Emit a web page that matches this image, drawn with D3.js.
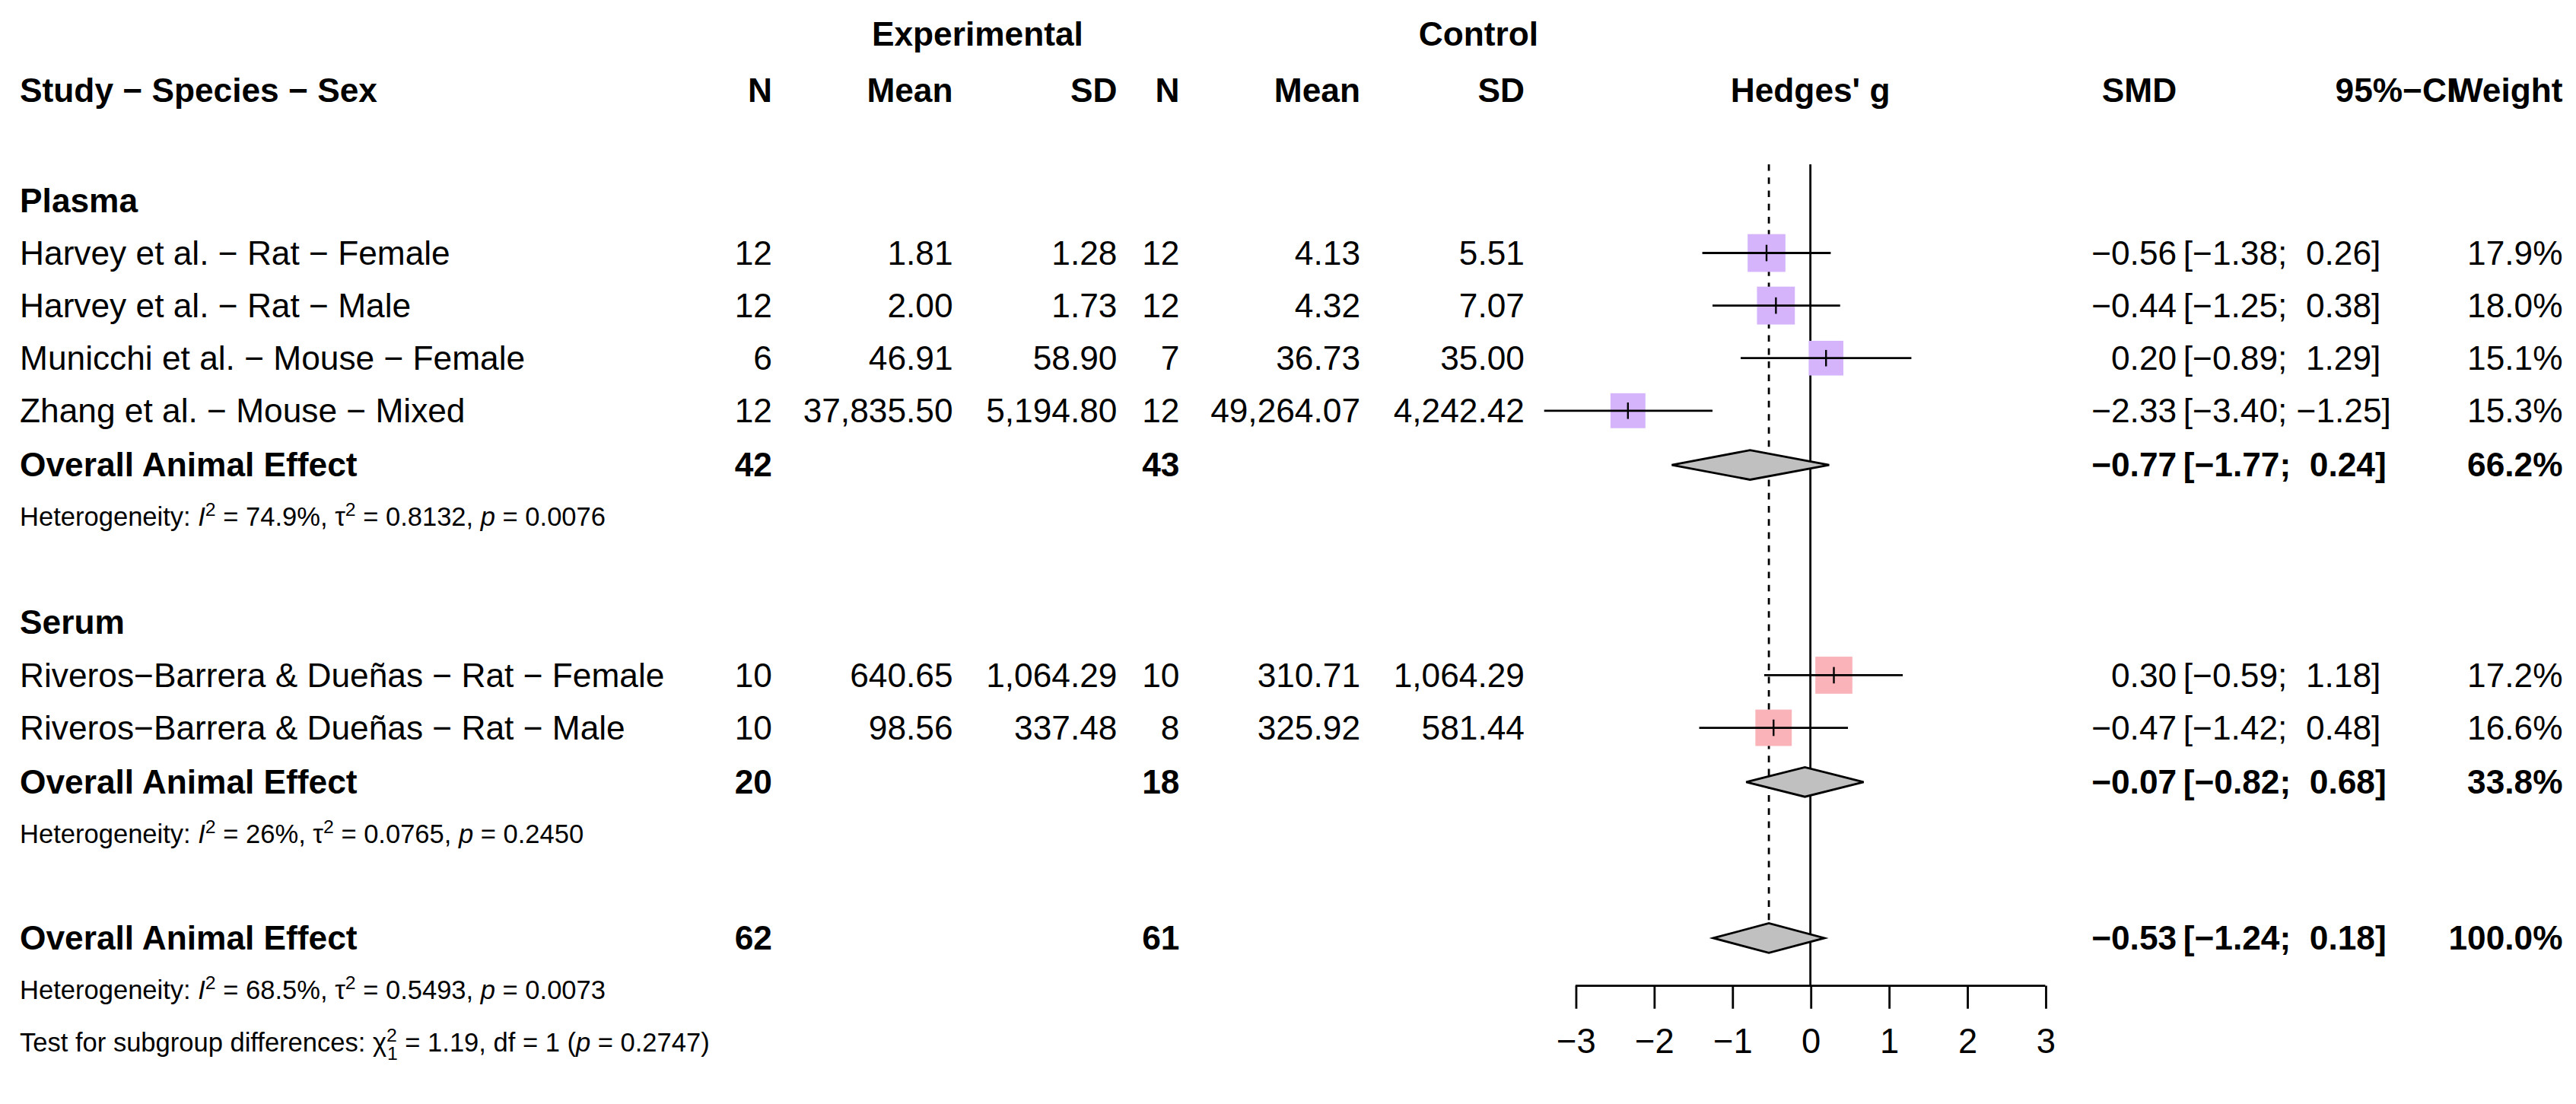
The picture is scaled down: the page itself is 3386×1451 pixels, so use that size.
<!DOCTYPE html>
<html><head><meta charset="utf-8">
<script src="https://cdn.jsdelivr.net/npm/d3@7"></script>
<style>body{margin:0;background:#fff}text{font-family:"Liberation Sans",Arial,sans-serif;fill:#000}</style>
</head><body>
<svg id="chart" width="3386" height="1451" viewBox="0 0 1568 672"></svg>
<script>
// study rows
var studies = ["Harvey et al. \u2212 Rat \u2212 Female","Harvey et al. \u2212 Rat \u2212 Male","Municchi et al. \u2212 Mouse \u2212 Female","Zhang et al. \u2212 Mouse \u2212 Mixed","Riveros\u2212Barrera & Due\u00f1as \u2212 Rat \u2212 Female","Riveros\u2212Barrera & Due\u00f1as \u2212 Rat \u2212 Male"];
var group = ["Plasma","Plasma","Plasma","Plasma","Serum","Serum"];
var nE = ["12","12","6","12","10","10"];
var meanE = ["1.81","2.00","46.91","37,835.50","640.65","98.56"];
var sdE = ["1.28","1.73","58.90","5,194.80","1,064.29","337.48"];
var nC = ["12","12","7","12","10","8"];
var meanC = ["4.13","4.32","36.73","49,264.07","310.71","325.92"];
var sdC = ["5.51","7.07","35.00","4,242.42","1,064.29","581.44"];
var smd = [-0.56,-0.44,0.20,-2.33,0.30,-0.47];
var lo = [-1.38,-1.25,-0.89,-3.40,-0.59,-1.42];
var hi = [0.26,0.38,1.29,-1.25,1.18,0.48];
var weight = [17.9,18.0,15.1,15.3,17.2,16.6];
// pooled rows
var pooledLabel = ["Overall Animal Effect","Overall Animal Effect","Overall Animal Effect"];
var pooledNE = ["42","20","62"], pooledNC = ["43","18","61"];
var pooledSmd = [-0.77,-0.07,-0.53], pooledLo = [-1.77,-0.82,-1.24], pooledHi = [0.24,0.68,0.18];
var pooledW = ["66.2%","33.8%","100.0%"];
var het = [["74.9%","0.8132","0.0076"],["26%","0.0765","0.2450"],["68.5%","0.5493","0.0073"]];
var ticks = [-3,-2,-1,0,1,2,3];
var groupColor = {Plasma:"#d5b4fb", Serum:"#f9b3b9"};

var svg = d3.select("#chart");
var x = d3.scaleLinear().domain([-3,3]).range([959,1245]);
var rowY = {s0:154,s1:186,s2:218,s3:250,p0:283,h0:314,g0:122,g1:379,s4:411,s5:443,p1:476,h1:507,p2:571,h2:602,t:634};
var fs = 20.5;
function fmt(v){ return (v<0?"\u2212":"")+Math.abs(v).toFixed(2); }
function fmtCI(a,b){ return "["+fmt(a)+";"+(b<0?" ":"  ")+fmt(b)+"]"; }
function txt(str,xx,yy,anchor,bold,size){
  return svg.append("text").attr("x",xx).attr("y",yy).attr("text-anchor",anchor||"start")
    .attr("font-size",size||fs).attr("font-weight",bold?"bold":"normal").style("white-space","pre").text(str);
}
var col = {nE:470,mE:580,sE:680,nC:718,mC:828,sC:928,smd:1325,ci:1329,ciHead:1495,w:1560};

// headers
txt("Experimental",595,28,"middle",true);
txt("Control",900,28,"middle",true);
var hy=62;
txt("Study \u2212 Species \u2212 Sex",12,hy,"start",true);
[["N",col.nE],["Mean",col.mE],["SD",col.sE],["N",col.nC],["Mean",col.mC],["SD",col.sC],["SMD",col.smd],["95%\u2212CI",col.ciHead],["Weight",col.w]]
  .forEach(function(h){ txt(h[0],h[1],hy,"end",true); });
txt("Hedges' g",x(0),hy,"middle",true);
txt("Plasma",12,rowY.g0+7,"start",true);
txt("Serum",12,rowY.g1+7,"start",true);

// reference lines
svg.append("line").attr("x1",x(0)).attr("x2",x(0)).attr("y1",100).attr("y2",600).attr("stroke","#000").attr("stroke-width",1.3);
svg.append("line").attr("x1",x(pooledSmd[2])).attr("x2",x(pooledSmd[2])).attr("y1",100).attr("y2",rowY.p2-9)
  .attr("stroke","#000").attr("stroke-width",1.3).attr("stroke-dasharray","4,4");

// study rows
studies.forEach(function(s,i){
  var y = rowY["s"+i], ty=y+7;
  txt(s,12,ty); txt(nE[i],col.nE,ty,"end"); txt(meanE[i],col.mE,ty,"end"); txt(sdE[i],col.sE,ty,"end");
  txt(nC[i],col.nC,ty,"end"); txt(meanC[i],col.mC,ty,"end"); txt(sdC[i],col.sC,ty,"end");
  txt(fmt(smd[i]),col.smd,ty,"end"); txt(fmtCI(lo[i],hi[i]),col.ci,ty,"start"); txt(weight[i].toFixed(1)+"%",col.w,ty,"end");
  var side = 23*Math.sqrt(weight[i]/17.9);
  svg.append("rect").attr("x",x(smd[i])-side/2).attr("y",y-side/2).attr("width",side).attr("height",side).attr("fill",groupColor[group[i]]);
  svg.append("line").attr("x1",x(lo[i])).attr("x2",x(hi[i])).attr("y1",y).attr("y2",y).attr("stroke","#000").attr("stroke-width",1.3);
  svg.append("line").attr("x1",x(smd[i])).attr("x2",x(smd[i])).attr("y1",y-5).attr("y2",y+5).attr("stroke","#000").attr("stroke-width",1.1);
});

// pooled rows
pooledLabel.forEach(function(l,k){
  var y=rowY["p"+k], ty=y+7;
  txt(l,12,ty,"start",true); txt(pooledNE[k],col.nE,ty,"end",true); txt(pooledNC[k],col.nC,ty,"end",true);
  txt(fmt(pooledSmd[k]),col.smd,ty,"end",true); txt(fmtCI(pooledLo[k],pooledHi[k]),col.ci,ty,"start",true); txt(pooledW[k],col.w,ty,"end",true);
  var pts=[[x(pooledLo[k]),y],[x(pooledSmd[k]),y-9],[x(pooledHi[k]),y],[x(pooledSmd[k]),y+9]];
  svg.append("polygon").attr("points",pts.map(function(p){return p.join(",");}).join(" "))
    .attr("fill","#c0c0c0").attr("stroke","#000").attr("stroke-width",1.3);
  // heterogeneity
  var t = svg.append("text").attr("x",12).attr("y",rowY["h"+k]+6).attr("font-size",16);
  t.append("tspan").text("Heterogeneity: ");
  t.append("tspan").attr("font-style","italic").text("I");
  t.append("tspan").attr("dy",-6).attr("font-size",11.5).text("2");
  t.append("tspan").attr("dy",6).text(" = "+het[k][0]+", \u03c4");
  t.append("tspan").attr("dy",-6).attr("font-size",11.5).text("2");
  t.append("tspan").attr("dy",6).text(" = "+het[k][1]+", ");
  t.append("tspan").attr("font-style","italic").text("p");
  t.append("tspan").text(" = "+het[k][2]);
});
var tt = svg.append("text").attr("x",12).attr("y",rowY.t+6).attr("font-size",16);
tt.append("tspan").text("Test for subgroup differences: \u03c7");
tt.append("tspan").attr("dy",-6).attr("font-size",11.5).text("2");
tt.append("tspan").attr("dx",-6).attr("dy",11).attr("font-size",11.5).text("1");
tt.append("tspan").attr("dy",-5).text(" = 1.19, df = 1 (");
tt.append("tspan").attr("font-style","italic").text("p");
tt.append("tspan").text(" = 0.2747)");

// axis
var ax = svg.append("g").attr("transform","translate(0,600)")
  .call(d3.axisBottom(x).tickValues(ticks).tickSize(14).tickPadding(12).tickFormat(function(d){return d<0?"\u2212"+(-d):d;}));
ax.select(".domain").attr("d","M"+x(-3)+",0H"+x(3)).attr("stroke-width",1.3);
ax.selectAll(".tick line").attr("stroke-width",1.3);
ax.selectAll("text").attr("font-size",21).style("font-family","Liberation Sans, Arial, sans-serif");
</script>
</body></html>
